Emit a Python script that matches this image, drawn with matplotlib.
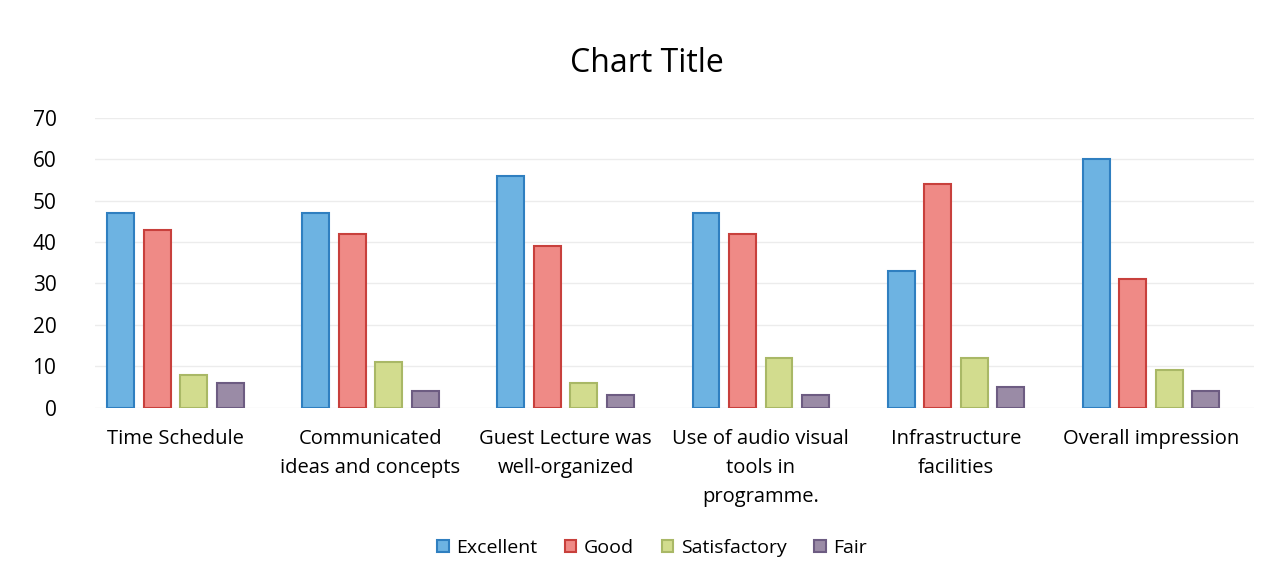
import numpy as np
import matplotlib.pyplot as plt

plt.rcParams["font.family"] = ["Open Sans", "DejaVu Sans"]

categories = [
    "Time Schedule",
    "Communicated\nideas and concepts",
    "Guest Lecture was\nwell-organized",
    "Use of audio visual\ntools in\nprogramme.",
    "Infrastructure\nfacilities",
    "Overall impression",
]
series_names = ["Excellent", "Good", "Satisfactory", "Fair"]
excellent = [47, 47, 56, 47, 33, 60]
good = [43, 42, 39, 42, 54, 31]
satisfactory = [8, 11, 6, 12, 12, 9]
fair = [6, 4, 3, 3, 5, 4]

fills = ["#6db3e2", "#ef8a86", "#d2dc8e", "#9a8ba6"]
edges = ["#2f7fc0", "#c8403c", "#a9b866", "#6d5c82"]

fig = plt.figure(figsize=(12.71, 5.8), dpi=100)
ax = fig.add_axes([0.075, 0.297, 0.912, 0.5])

x = np.arange(len(categories))
step = 0.187
width = 0.138
for i, (name, vals) in enumerate(zip(series_names, [excellent, good, satisfactory, fair])):
    ax.bar(x + (i - 1.5) * step, vals, width, color=fills[i], edgecolor=edges[i],
           linewidth=1.5, label=name, zorder=3)

ax.set_xlim(-0.41, 5.53)
ax.set_ylim(0, 70)
ax.set_yticks(range(0, 71, 10))
ax.set_xticks(x)
ax.set_xticklabels(categories, fontsize=14.5, linespacing=1.6, va="top")
ax.tick_params(axis="x", length=0, pad=15)
ax.tick_params(axis="y", length=0, pad=28, labelsize=15)
ax.grid(axis="y", color="#ececec", linewidth=1, zorder=0)
for spine in ax.spines.values():
    spine.set_visible(False)

fig.suptitle("Chart Title", x=0.509, y=0.891, va="center", fontsize=23)

fig.legend(loc="center", bbox_to_anchor=(0.513, 0.055), ncol=4, frameon=False,
           fontsize=14, handlelength=0.6, handleheight=0.6, handletextpad=0.4,
           columnspacing=1.4)

fig.savefig("out.png", dpi=100)
